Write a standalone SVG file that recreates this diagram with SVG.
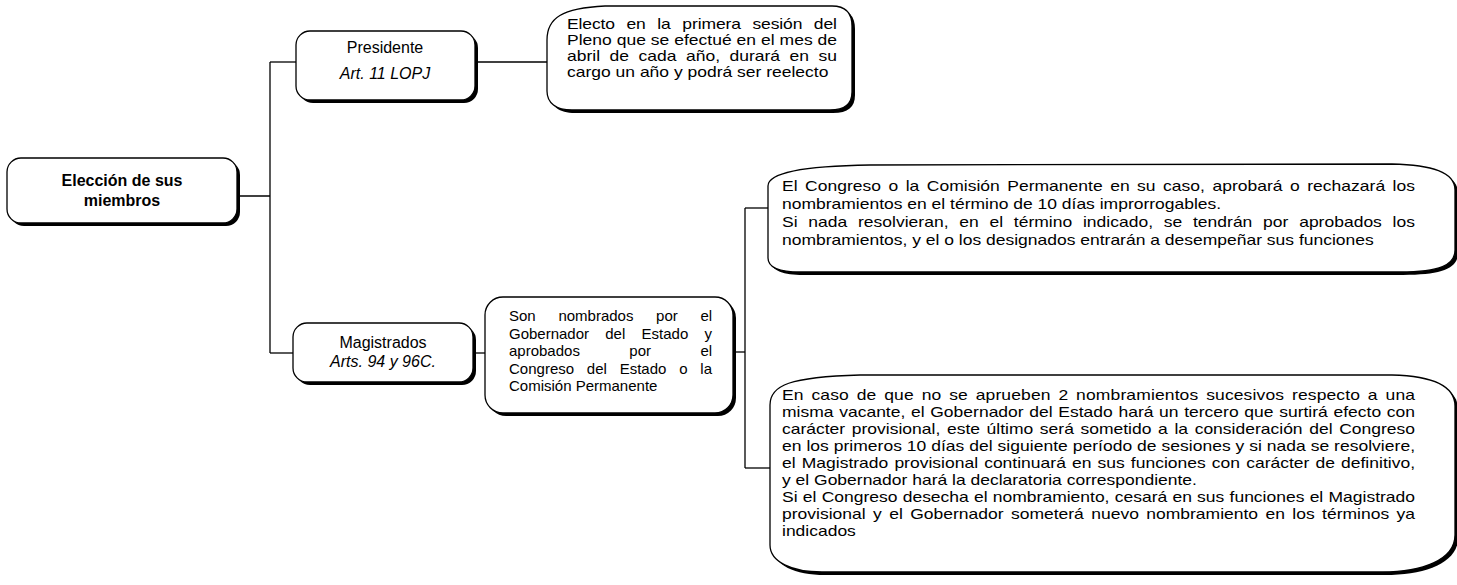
<svg xmlns="http://www.w3.org/2000/svg" width="1457" height="585" viewBox="0 0 1457 585">
<style>
.box{fill:#fff;stroke:#000;stroke-width:1.3}
.sh{fill:#000}
.conn{fill:none;stroke:#000;stroke-width:1.3}
text{font-family:"Liberation Sans",Arial,Helvetica,sans-serif;fill:#000}
.t16{font-size:16px}
.b{font-weight:bold}
.i{font-style:italic}
.s14{font-size:14px}
.s15{font-size:15px}
</style>
<defs>
<path id="pElecto" d="M547,40 C547,18 562,8 605,6 L832,6 C846,6 852,13 852,26 L852,92 C852,104 845,110 830,110 L572,110 C556,110 547,103 547,91 Z"/>
<path id="pT1" d="M768,186 C768,173 800,166 870,165 L1392,164 C1432,165 1455,172 1455,190 L1455,250 C1455,265 1440,272 1400,272 L800,272 C781,272 768,268 768,258 Z"/>
<path id="pT2" d="M770,405 C770,385 790,377 860,375 L1392,375 C1432,376 1455,386 1455,406 L1455,535 C1455,560 1422,572 1382,572 L822,572 C792,572 770,562 770,545 Z"/>
</defs>
<rect x="0" y="0" width="1457" height="585" fill="#fff"/>

<g id="connectors">
<path class="conn" d="M237,196 H270"/>
<path class="conn" d="M270,62 V353"/>
<path class="conn" d="M270,62 H296"/>
<path class="conn" d="M270,353 H293"/>
<path class="conn" d="M475,62 H547"/>
<path class="conn" d="M473,353 H485"/>
<path class="conn" d="M733,352 H745"/>
<path class="conn" d="M745,208 V468"/>
<path class="conn" d="M745,208 H768"/>
<path class="conn" d="M745,468 H770"/>
</g>

<g id="eleccion">
<rect class="sh" x="10" y="161" width="230" height="65" rx="14"/>
<rect class="box" x="7" y="158" width="230" height="65" rx="14"/>
<text class="t16 b" x="122" y="186" text-anchor="middle">Elección de sus</text>
<text class="t16 b" x="122" y="206" text-anchor="middle">miembros</text>
</g>

<g id="presidente">
<rect class="sh" x="299" y="34" width="179" height="69" rx="14"/>
<rect class="box" x="296" y="31" width="179" height="69" rx="14"/>
<text class="t16" x="385" y="53" text-anchor="middle">Presidente</text>
<text class="t16 i" x="385" y="79" text-anchor="middle">Art. 11 LOPJ</text>
</g>

<g id="magistrados">
<rect class="sh" x="296" y="326" width="180" height="59" rx="14"/>
<rect class="box" x="293" y="323" width="180" height="59" rx="14"/>
<text class="t16" x="383" y="348" text-anchor="middle">Magistrados</text>
<text class="t16 i" x="383" y="367" text-anchor="middle">Arts. 94 y 96C.</text>
</g>

<g id="electo">
<use href="#pElecto" class="sh" transform="translate(3 3)"/>
<use href="#pElecto" class="box"/>
<g transform="translate(567 0) scale(1.25 1)">
<text class="s14" x="0" y="29" word-spacing="5.5" textLength="216" lengthAdjust="spacing">Electo en la primera sesión del</text>
<text class="s14" x="0" y="45" textLength="216" lengthAdjust="spacing">Pleno que se efectué en el mes de</text>
<text class="s14" x="0" y="61" word-spacing="3.7" textLength="216" lengthAdjust="spacing">abril de cada año, durará en su</text>
<text class="s14" x="0" y="77">cargo un año y podrá ser reelecto</text>
</g>
</g>

<g id="nombrados">
<rect class="sh" x="488" y="300" width="248" height="116" rx="18"/>
<rect class="box" x="485" y="297" width="248" height="116" rx="18"/>
<text class="s15" y="321"><tspan x="509">Son</tspan><tspan x="558.4">nombrados</tspan><tspan x="656.1">por</tspan><tspan x="700.5">el</tspan></text>
<text class="s15" x="509" y="338.5" word-spacing="12.1" textLength="203" lengthAdjust="spacing">Gobernador del Estado y</text>
<text class="s15" y="356"><tspan x="509">aprobados</tspan><tspan x="629.3">por</tspan><tspan x="700.5">el</tspan></text>
<text class="s15" x="509" y="373.5" word-spacing="8.6" textLength="203" lengthAdjust="spacing">Congreso del Estado o la</text>
<text class="s15" x="509" y="391">Comisión Permanente</text>
</g>

<g id="congreso">
<use href="#pT1" class="sh" transform="translate(3 3)"/>
<use href="#pT1" class="box"/>
<g transform="translate(782 0) scale(1.25 1)">
<text class="s14" x="0" y="191" word-spacing="2.1" textLength="506.4" lengthAdjust="spacing">El Congreso o la Comisión Permanente en su caso, aprobará o rechazará los</text>
<text class="s14" x="0" y="209">nombramientos en el término de 10 días improrrogables.</text>
<text class="s14" x="0" y="227" word-spacing="4.7" textLength="506.4" lengthAdjust="spacing">Si nada resolvieran, en el término indicado, se tendrán por aprobados los</text>
<text class="s14" x="0" y="245">nombramientos, y el o los designados entrarán a desempeñar sus funciones</text>
</g>
</g>

<g id="vacante">
<use href="#pT2" class="sh" transform="translate(3 3)"/>
<use href="#pT2" class="box"/>
<g transform="translate(782 0) scale(1.25 1)">
<text class="s14" x="0" y="400" word-spacing="2.25" textLength="506.4" lengthAdjust="spacing">En caso de que no se aprueben 2 nombramientos sucesivos respecto a una</text>
<text class="s14" x="0" y="417" word-spacing="0.6" textLength="506.4" lengthAdjust="spacing">misma vacante, el Gobernador del Estado hará un tercero que surtirá efecto con</text>
<text class="s14" x="0" y="434" word-spacing="1.4" textLength="506.4" lengthAdjust="spacing">carácter provisional, este último será sometido a la consideración del Congreso</text>
<text class="s14" x="0" y="451" textLength="506.4" lengthAdjust="spacing">en los primeros 10 días del siguiente período de sesiones y si nada se resolviere,</text>
<text class="s14" x="0" y="468" word-spacing="1" textLength="506.4" lengthAdjust="spacing">el Magistrado provisional continuará en sus funciones con carácter de definitivo,</text>
<text class="s14" x="0" y="485">y el Gobernador hará la declaratoria correspondiente.</text>
<text class="s14" x="0" y="502" word-spacing="0.3" textLength="506.4" lengthAdjust="spacing">Si el Congreso desecha el nombramiento, cesará en sus funciones el Magistrado</text>
<text class="s14" x="0" y="519" word-spacing="2" textLength="506.4" lengthAdjust="spacing">provisional y el Gobernador someterá nuevo nombramiento en los términos ya</text>
<text class="s14" x="0" y="536">indicados</text>
</g>
</g>
</svg>
